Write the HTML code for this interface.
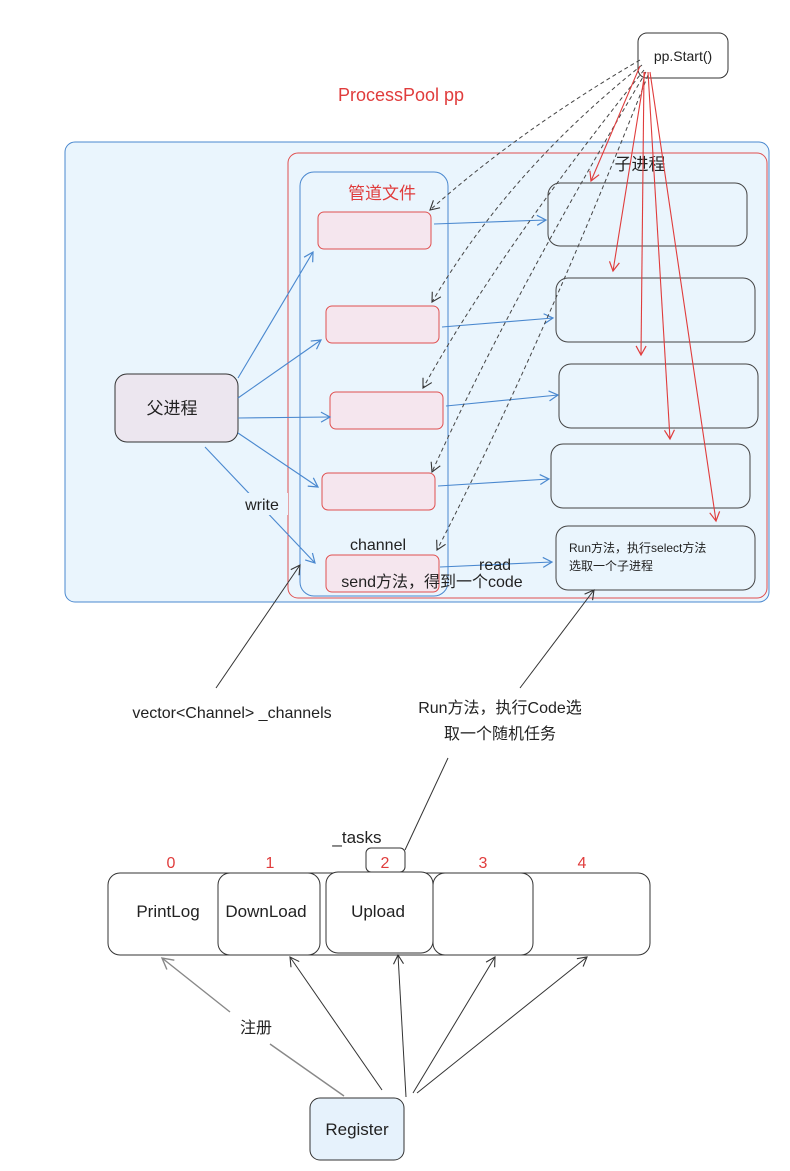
<!DOCTYPE html>
<html><head><meta charset="utf-8"><style>
body{margin:0;background:#fff}
svg text{font-family:"Liberation Sans","Noto Sans CJK SC",sans-serif}
</style></head><body>
<svg width="790" height="1166" viewBox="0 0 790 1166" xmlns="http://www.w3.org/2000/svg">
<defs>
<marker id="ab" markerWidth="12" markerHeight="12" refX="10" refY="6" orient="auto" markerUnits="userSpaceOnUse"><path d="M1,1 L10,6 L1,11" fill="none" stroke="#4a88cf" stroke-width="1.2"/></marker>
<marker id="ar" markerWidth="12" markerHeight="12" refX="10" refY="6" orient="auto" markerUnits="userSpaceOnUse"><path d="M1,1 L10,6 L1,11" fill="none" stroke="#e03c3c" stroke-width="1.2"/></marker>
<marker id="ak" markerWidth="12" markerHeight="12" refX="10" refY="6" orient="auto" markerUnits="userSpaceOnUse"><path d="M1,1 L10,6 L1,11" fill="none" stroke="#333" stroke-width="1.1"/></marker>
<marker id="ag" markerWidth="14" markerHeight="14" refX="12" refY="7" orient="auto" markerUnits="userSpaceOnUse"><path d="M1,1 L12,7 L1,13" fill="none" stroke="#888" stroke-width="1.4"/></marker>
</defs>
<rect x="638" y="33" width="90" height="45" rx="9" fill="#fff" stroke="#333"/>
<text x="683" y="61" font-size="14" text-anchor="middle" fill="#222">pp.Start()</text>
<text x="401" y="101" font-size="18" text-anchor="middle" fill="#e03c3c">ProcessPool pp</text>
<rect x="65" y="142" width="704" height="460" rx="10" fill="#eaf5fd" stroke="#4a88cf"/>
<rect x="288" y="153" width="479" height="445" rx="10" fill="none" stroke="#e05050"/>
<rect x="300" y="172" width="148" height="424" rx="14" fill="none" stroke="#4a88cf"/>
<text x="382" y="199" font-size="17" text-anchor="middle" fill="#e03c3c">管道文件</text>
<text x="640" y="170" font-size="17" text-anchor="middle" fill="#222">子进程</text>
<g fill="#f5e6ee" stroke="#e05050">
<rect x="318" y="212" width="113" height="37" rx="6"/>
<rect x="326" y="306" width="113" height="37" rx="6"/>
<rect x="330" y="392" width="113" height="37" rx="6"/>
<rect x="322" y="473" width="113" height="37" rx="6"/>
<rect x="326" y="555" width="113" height="37" rx="6"/>
</g>
<g fill="none" stroke="#444">
<rect x="548" y="183" width="199" height="63" rx="12"/>
<rect x="556" y="278" width="199" height="64" rx="12"/>
<rect x="559" y="364" width="199" height="64" rx="12"/>
<rect x="551" y="444" width="199" height="64" rx="12"/>
<rect x="556" y="526" width="199" height="64" rx="12"/>
</g>
<text x="569" y="552" font-size="12" fill="#222">Run方法，执行select方法</text>
<text x="569" y="570" font-size="12" fill="#222">选取一个子进程</text>
<rect x="115" y="374" width="123" height="68" rx="12" fill="#ece6ef" stroke="#333"/>
<text x="172" y="414" font-size="17" text-anchor="middle" fill="#222">父进程</text>
<g stroke="#4a88cf" fill="none" marker-end="url(#ab)" stroke-width="1.1">
<path d="M238,378 L313,252"/>
<path d="M238,398 L321,340"/>
<path d="M238,418 L330,417"/>
<path d="M238,433 L318,487"/>
<path d="M205,447 L315,563"/>
<path d="M434,224 L546,220"/>
<path d="M442,327 L553,318"/>
<path d="M446,406 L558,395"/>
<path d="M438,486 L549,479"/>
<path d="M440,567 L552,562"/>
</g>
<rect x="236" y="493" width="52" height="22" fill="#eaf5fd"/>
<text x="262" y="510" font-size="16" text-anchor="middle" fill="#222">write</text>
<text x="378" y="550" font-size="16" text-anchor="middle" fill="#222">channel</text>
<text x="495" y="570" font-size="16" text-anchor="middle" fill="#222">read</text>
<text x="432" y="587" font-size="16" text-anchor="middle" fill="#222">send方法，得到一个code</text>
<g stroke="#444" fill="none" stroke-dasharray="4,3" marker-end="url(#ak)">
<path d="M640,60 Q520,130 430,210"/>
<path d="M642,65 Q510,170 432,302"/>
<path d="M644,70 Q500,250 423,388"/>
<path d="M646,72 Q510,300 432,472"/>
<path d="M648,75 Q540,350 437,550"/>
</g>
<g stroke="#e03c3c" fill="none" marker-end="url(#ar)" stroke-width="1.1">
<path d="M640,66 L591,181"/>
<path d="M645,72 L613,271"/>
<path d="M644,72 L641,355"/>
<path d="M648,72 L670,439"/>
<path d="M650,72 L716,521"/>
</g>
<g stroke="#333" fill="none" marker-end="url(#ak)">
<path d="M216,688 L300,565"/>
<path d="M520,688 L594,590"/>
</g>
<path d="M405,850 L448,758" stroke="#333" fill="none"/>
<text x="232" y="718" font-size="16" text-anchor="middle" fill="#222">vector&lt;Channel&gt; _channels</text>
<text x="500" y="713" font-size="16" text-anchor="middle" fill="#222">Run方法，执行Code选</text>
<text x="500" y="739" font-size="16" text-anchor="middle" fill="#222">取一个随机任务</text>
<text x="357" y="843" font-size="17" text-anchor="middle" fill="#222">_tasks</text>
<rect x="366" y="848" width="39" height="24" rx="5" fill="#fff" stroke="#333"/>
<g font-size="16" fill="#e03c3c" text-anchor="middle">
<text x="171" y="868">0</text><text x="270" y="868">1</text><text x="385" y="868">2</text><text x="483" y="868">3</text><text x="582" y="868">4</text>
</g>
<g fill="none" stroke="#333">
<rect x="108" y="873" width="542" height="82" rx="12" fill="#fff"/>
<rect x="218" y="873" width="102" height="82" rx="12" fill="#fff"/>
<rect x="326" y="872" width="107" height="81" rx="12" fill="#fff"/>
<rect x="433" y="873" width="100" height="82" rx="12"/>
</g>
<g font-size="17" fill="#222" text-anchor="middle">
<text x="168" y="917">PrintLog</text><text x="266" y="917">DownLoad</text><text x="378" y="917">Upload</text>
</g>
<rect x="310" y="1098" width="94" height="62" rx="10" fill="#e6f2fc" stroke="#333"/>
<text x="357" y="1135" font-size="17" text-anchor="middle" fill="#222">Register</text>
<path d="M270,1044 L344,1096" stroke="#888" stroke-width="1.4"/>
<path d="M230,1012 L162,958" stroke="#888" stroke-width="1.4" marker-end="url(#ag)"/>
<text x="256" y="1033" font-size="16" text-anchor="middle" fill="#222">注册</text>
<g stroke="#333" fill="none" marker-end="url(#ak)">
<path d="M382,1090 L290,957"/>
<path d="M406,1097 L398,955"/>
<path d="M413,1093 L495,957"/>
<path d="M417,1093 L587,957"/>
</g>
</svg>
</body></html>
